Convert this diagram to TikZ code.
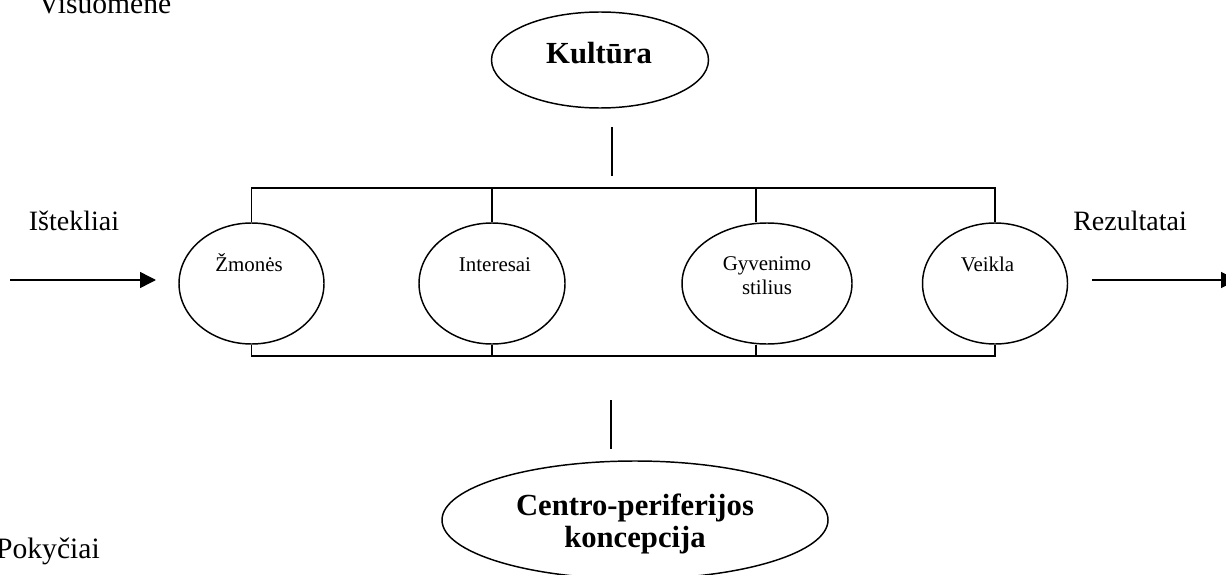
\documentclass[tikz,border=0pt]{standalone}
\usepackage{fontspec}
\setmainfont{Liberation Serif}
\usetikzlibrary{shapes.geometric,arrows.meta}
\begin{document}
\begin{tikzpicture}[x=0.75pt,y=-0.75pt,
  oval/.style={draw, ellipse, inner sep=0pt, line width=1.1pt},
  ln/.style={line width=1.1pt},
  arr/.style={line width=1.1pt, -{Triangle[length=12pt,width=12pt]}},
  side/.style={font=\fontsize{21}{25}\selectfont, inner sep=0pt, anchor=base},
  corner/.style={font=\fontsize{22.2}{26}\selectfont, inner sep=0pt},
  small/.style={font=\fontsize{15.7}{18.8}\selectfont, inner sep=0pt, anchor=base},
  big/.style={font=\fontsize{23}{24.75}\selectfont\bfseries, inner sep=0pt, anchor=base},
]
\useasboundingbox (0,0) rectangle (1226,574);

% ellipses
\node[oval, minimum width={217*0.75pt}, minimum height={96*0.75pt}] (kul) at (600,60) {};
\node[oval, minimum width={145*0.75pt}, minimum height={121*0.75pt}] (zm) at (251.5,283.5) {};
\node[oval, minimum width={146*0.75pt}, minimum height={121*0.75pt}] (inter) at (492,283.5) {};
\node[oval, minimum width={170*0.75pt}, minimum height={121*0.75pt}] (gy) at (767,283.5) {};
\node[oval, minimum width={145*0.75pt}, minimum height={121*0.75pt}] (ve) at (995,283.5) {};
\node[oval, minimum width={386*0.75pt}, minimum height={118*0.75pt}] (cp) at (635,520) {};

% texts
\node[big] (kult) at (599,64) {Kultūra};
\node[small] (zmt) at (249,271) {Žmonės};
\node[small] (intt) at (495,271) {Interesai};
\node[small] (gyt1) at (767,270) {Gyvenimo};
\node[small] (gyt2) at (767,294) {stilius};
\node[small] (vet) at (987.5,271) {Veikla};
\node[big] (cpt1) at (635,515) {Centro-periferijos};
\node[big] (cpt2) at (635,547) {koncepcija};
\node[corner, anchor=base west] (vis) at (38,14) {Visuomenė};
\node[corner, anchor=base east] (pok) at (100,558) {Pokyčiai};
\node[side] (ist) at (74,230) {Ištekliai};
\node[side] (rez) at (1130,230) {Rezultatai};

% bus lines
\coordinate (tl) at (251,188);
\coordinate (bl) at (251,356);
\coordinate (gyx) at (756,0);
\draw[ln] (zm.north) |- (ve.north |- tl) -- (ve.north);
\draw[ln] (inter.north) -- (inter.north |- tl);
\draw[ln] (gyx |- gy.north) -- (gyx |- tl);
\draw[ln] (zm.south) |- (ve.south |- bl) -- (ve.south);
\draw[ln] (inter.south) -- (inter.south |- bl);
\draw[ln] (gyx |- gy.south) -- (gyx |- bl);

% short vertical strokes
\coordinate (k1) at (612,127);
\coordinate (k2) at (612,176);
\draw[ln] (k1) -- (k2);
\coordinate (c1) at (611,400);
\coordinate (c2) at (611,449);
\draw[ln] (c1) -- (c2);

% arrows
\coordinate (a1s) at (10,280);
\coordinate (a1e) at (156,280);
\draw[arr] (a1s) -- (a1e);
\coordinate (a2s) at (1092,280);
\coordinate (a2e) at (1237,280);
\draw[arr] (a2s) -- (a2e);
\end{tikzpicture}
\end{document}
